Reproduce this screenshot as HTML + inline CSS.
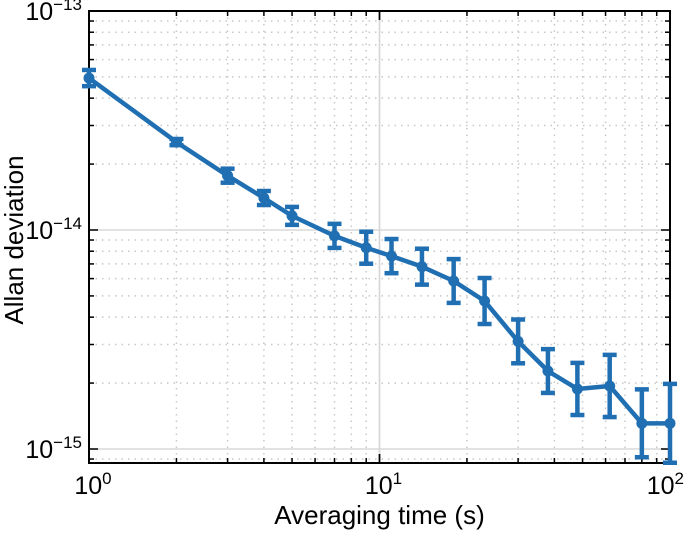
<!DOCTYPE html>
<html><head><meta charset="utf-8"><style>
body{margin:0;background:#fff;width:685px;height:532px;overflow:hidden}
svg{font-family:"Liberation Sans",sans-serif}
</style></head><body>
<svg id="c" width="685" height="532"></svg>
<script>
const taus=[1,2,3,4,5,7,9,11,14,18,23,30,38,48,62,80,100];
const adev=[4.94e-14,2.52e-14,1.77e-14,1.40e-14,1.16e-14,9.4e-15,8.3e-15,7.6e-15,6.8e-15,5.85e-15,4.74e-15,3.1e-15,2.27e-15,1.88e-15,1.94e-15,1.31e-15,1.31e-15];
const errDex=[0.037,0.014,0.032,0.032,0.041,0.055,0.073,0.078,0.082,0.1,0.105,0.1,0.1,0.119,0.142,0.155,0.18];
const xTickExp=[0,1,2];
const yTickExp=[-13,-14,-15];
const L=89,R=670,T=11,B=463;
const yTopLog=-13,yDec=219;
const X=v=>L+Math.log10(v)*(R-L)/2;
const YL=l=>T+(yTopLog-l)*yDec;
const Y=v=>YL(Math.log10(v));
const s=document.getElementById('c');
const NS='http://www.w3.org/2000/svg';
function mk(t,a,p){const e=document.createElementNS(NS,t);for(const k in a)e.setAttribute(k,a[k]);(p||s).appendChild(e);return e;}
const grid=mk('g',{});


for(let d=0;d<2;d++)for(let m=1;m<=10;m++){const v=m*Math.pow(10,d);const x=X(v);
 if(m===1&&d===0)continue;
 const major=(m===10||m===1);
 if(!(m===10&&d===1))mk('line',{x1:x,x2:x,y1:T,y2:B,stroke:major?'#d8d8d8':'#c8c8c8','stroke-width':1.5,'stroke-dasharray':major?'':'1.5,5'},grid);
 const tl=major?9:5;
 mk('line',{x1:x,x2:x,y1:B,y2:B-tl,stroke:'#000','stroke-width':1.5});
 mk('line',{x1:x,x2:x,y1:T,y2:T+tl,stroke:'#000','stroke-width':1.5});}
for(let e=-16;e<=-14;e++)for(let m=1;m<10;m++){const v=m*Math.pow(10,e);const y=Y(v);
 if(y<T+0.5||y>B)continue;const major=m===1;
 mk('line',{x1:L,x2:R,y1:y,y2:y,stroke:major?'#d8d8d8':'#c8c8c8','stroke-width':1.5,'stroke-dasharray':major?'':'1.5,5'},grid);
 const tl=major?9:5;
 mk('line',{x1:L,x2:L+tl,y1:y,y2:y,stroke:'#000','stroke-width':1.5});
 mk('line',{x1:R,x2:R-tl,y1:y,y2:y,stroke:'#000','stroke-width':1.5});}
const fr=mk('rect',{x:L,y:T,width:R-L,height:B-T,fill:'none',stroke:'#000','stroke-width':2});


xTickExp.forEach((e,i)=>{const last=i===xTickExp.length-1;
 const t=mk('text',{x:last?684:X(Math.pow(10,e))+4,y:B+31,'text-anchor':last?'end':'middle','font-size':25});
 
 
 t.innerHTML='10<tspan dy="-10" font-size="17">'+e+'</tspan>';});
yTickExp.forEach(e=>{const t=mk('text',{x:L-7,y:YL(e)+9,'text-anchor':'end','font-size':25});
 
 
 t.innerHTML='10<tspan dy="-10" font-size="17">\u2212'+(-e)+'</tspan>';});
const xt=mk('text',{x:(L+R)/2,y:524,'text-anchor':'middle','font-size':26});xt.textContent='Averaging time (s)';


const yt=mk('text',{x:0,y:0,'text-anchor':'middle','font-size':26,transform:'translate(23,240) rotate(-90)'});yt.textContent='Allan deviation';


const col='#1f6fb2';
const ln=mk('polyline',{points:taus.map((t,i)=>X(t)+','+Y(adev[i])).join(' '),fill:'none',stroke:col,'stroke-width':4.5,'stroke-linejoin':'round'});


taus.forEach((t,i)=>{const x=X(t),l=Math.log10(adev[i]);const y1=YL(l+errDex[i]),y2=YL(l-errDex[i]);
 const g=mk('g',{});
 
 
 mk('line',{x1:x,x2:x,y1:y1,y2:y2,stroke:col,'stroke-width':4.5},g);
 mk('line',{x1:x-7,x2:x+7,y1:y1,y2:y1,stroke:col,'stroke-width':4.5},g);
 mk('line',{x1:x-7,x2:x+7,y1:y2,y2:y2,stroke:col,'stroke-width':4.5},g);
 mk('circle',{cx:x,cy:Y(adev[i]),r:5.5,fill:col},g);});
</script>
</body></html>
